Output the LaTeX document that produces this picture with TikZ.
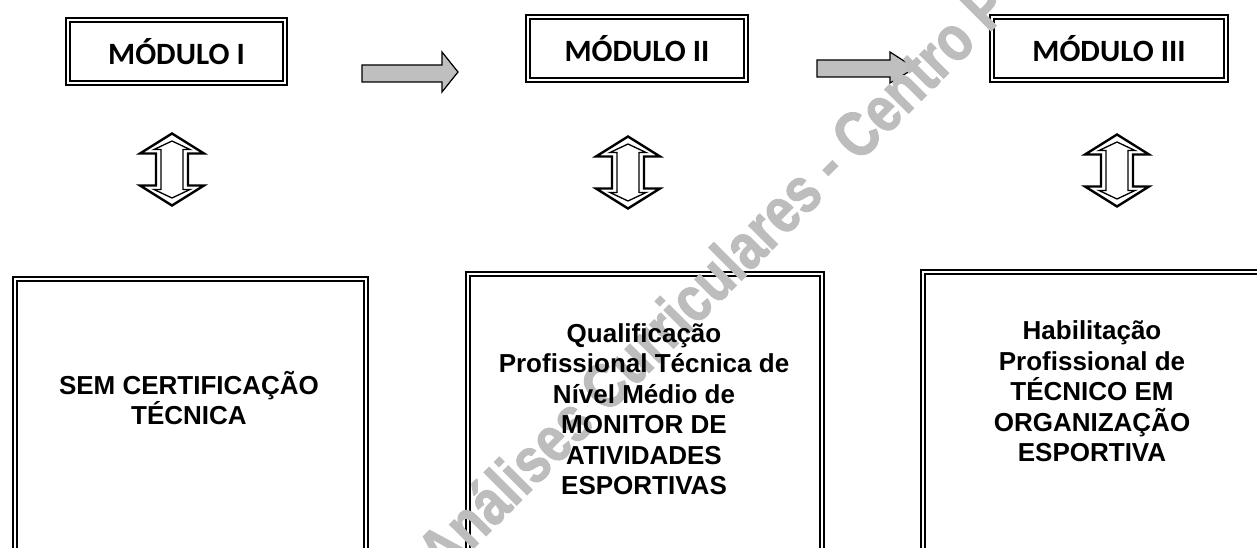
\documentclass[tikz,border=0pt]{standalone}
\usepackage{fontspec}
\setmainfont{Liberation Sans}
\newfontfamily\calibri{Carlito}
\newfontfamily\wmfont[FakeStretch=0.82, FakeBold=1.6]{Liberation Sans}

\tikzset{
  modbox/.style={draw, double, line width=1.8pt, double distance=2.4pt, inner sep=0pt,
    minimum height=62.8pt, font=\calibri\bfseries\fontsize{31}{36}\selectfont},
  certbox/.style={draw, double, line width=1.8pt, double distance=2.4pt, inner sep=0pt,
    anchor=north west, minimum height=400pt},
  certtext/.style={align=center, inner sep=0pt, font=\bfseries\fontsize{26}{30.5}\selectfont},
  blockarrow/.style={draw, fill=black!25, line width=1.2pt},
  updown/.style={draw, line width=2.4pt},
  watermark/.style={text=black!26, inner sep=0pt,
    font=\wmfont\bfseries\fontsize{64}{70}\selectfont}
}

\begin{document}
\begin{tikzpicture}[x=1pt, y=-1pt]
    \clip (0,0) rectangle (1257,548);
    \fill[white] (0,0) rectangle (1257,548);

    % Modules
    \node[modbox, minimum width=216.8pt] (m1) at (176.5,51.5) {MÓDULO I};
    \node[modbox, minimum width=217.8pt] (m2) at (637,48.5) {MÓDULO II};
    \node[modbox, minimum width=233.8pt] (m3) at (1109,48.5) {MÓDULO III};

    % Arrows between modules
    \draw[blockarrow] (362,65) -- (442,65) -- (442,52) -- (458,72) -- (442,92) -- (442,82) -- (362,82) -- cycle;
    \draw[blockarrow] (817,60) -- (890,60) -- (890,52) -- (915,68) -- (890,83) -- (890,77) -- (817,77) -- cycle;

    % Certification boxes
    \node[certbox, minimum width=351pt] (c1) at (14,278) {};
    \node[certbox, minimum width=354pt] (c2) at (467,273) {};
    \node[certbox, minimum width=340pt] (c3) at (922,271) {};

    % Watermark
    \node[watermark, rotate=45, anchor=base west] (wm) at (444,578) {Análises Curriculares - Centro P};

    \node[certtext] (t1) at (189,398) {SEM CERTIFICAÇÃO\\TÉCNICA};
    \node[certtext] (t2) at (644,409) {Qualificação\\Profissional Técnica de\\Nível Médio de\\MONITOR DE\\ATIVIDADES\\ESPORTIVAS};
    \node[certtext] (t3) at (1092,391.5) {Habilitação\\Profissional de\\TÉCNICO EM\\ORGANIZAÇÃO\\ESPORTIVA};

    % Up-down arrows
    \foreach \n/\cx/\cy in {d1/172/169.5, d2/628/172.5, d3/1117/170.5} {
      \coordinate (\n) at (\cx,\cy);
      \draw[updown, shift={(\n)}] (0,-36) -- (32,-16) -- (16,-16) -- (16,16) -- (32,16)
        -- (0,36) -- (-32,16) -- (-16,16) -- (-16,-16) -- (-32,-16) -- cycle;
      \draw[updown, line width=1.3pt, shift={(\n)}] (0,-28.5) -- (18,-20) -- (11,-20) -- (11,20) -- (18,20)
        -- (0,28.5) -- (-18,20) -- (-11,20) -- (-11,-20) -- (-18,-20) -- cycle;
    }
\end{tikzpicture}
\end{document}
